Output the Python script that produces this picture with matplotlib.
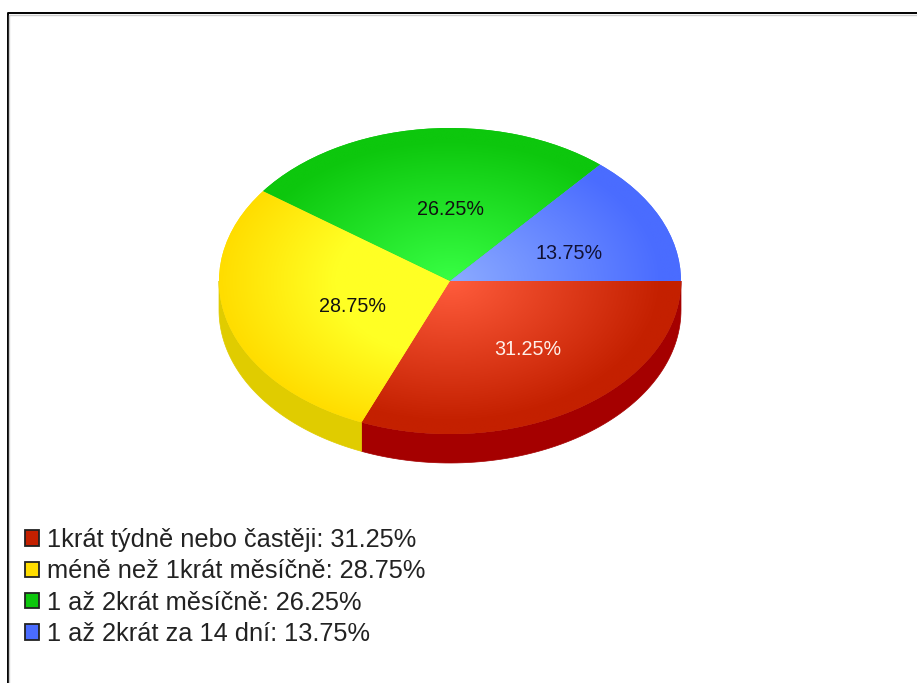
import matplotlib
matplotlib.use("Agg")
import matplotlib.pyplot as plt
import numpy as np
from matplotlib.colors import LinearSegmentedColormap
from matplotlib.patches import Patch

plt.rcParams["font.family"] = ["Liberation Sans", "DejaVu Sans"]

categories = ["1krát týdně nebo častěji", "méně než 1krát měsíčně",
              "1 až 2krát měsíčně", "1 až 2krát za 14 dní"]
values = [31.25, 28.75, 26.25, 13.75]
edge_colors = ["#c42000", "#ffdd00", "#0dc70d", "#4a6cff"]
center_colors = ["#ff5c3c", "#ffff24", "#38ff44", "#8cabff"]
hold = [0.0, 0.5, 0.0, 0.0]  # how far the bright centre colour stays
side_colors = ["#a50000", "#e0cc00", "#0a9a0a", "#3650c0"]
label_colors = ["#fff0ea", "#111111", "#111111", "#111133"]

W, H = 917, 683
CX, CY, RX, RY, DEPTH = 450, 281, 231, 153, 29

fig = plt.figure(figsize=(W / 100, H / 100), dpi=100, facecolor="white")
ax = fig.add_axes([0, 0, 1, 1])

wedges, _ = ax.pie(values, colors=edge_colors, startangle=0, counterclock=False,
                   wedgeprops={"linewidth": 0})
ax.set_aspect("auto")
xlim = (-CX / RX, (W - CX) / RX)
ylim = ((CY - H) / RY, CY / RY)
d = DEPTH / RY

# rim: only the front half of the pie shows
start = 0.0
for val, col in zip(values, side_colors):
    end = start + val * 3.6
    a, b = start, min(end, 180)
    if a < 180:
        th = np.radians(np.linspace(a, b, 80))
        x = np.cos(th)
        y = -np.sin(th)
        ax.fill(np.r_[x, x[::-1]], np.r_[y, y[::-1] - d], color=col, lw=0.5, zorder=0)
    start = end

# radial shading, clipped to each wedge
gx, gy = np.meshgrid(np.linspace(-1, 1, 500), np.linspace(-1, 1, 500))
rad = np.clip(np.hypot(gx, gy), 0, 1)
for w, c0, c1, h0 in zip(wedges, center_colors, edge_colors, hold):
    stops = [(0, c0), (h0, c0), (1, c1)] if h0 else [(0, c0), (0.92, c1), (1, c1)]
    cmap = LinearSegmentedColormap.from_list("shade", stops)
    im = ax.imshow(rad, cmap=cmap, vmin=0, vmax=1, extent=(-1, 1, -1, 1),
                   origin="lower", aspect="auto", zorder=2)
    im.set_clip_path(w)

# percentage labels
start = 0.0
for val, col in zip(values, label_colors):
    mid = np.radians(start + val * 1.8)
    ax.text(0.5 * np.cos(mid) + 0.06, -0.5 * np.sin(mid) - 0.03, f"{val:.2f}%", color=col,
            fontsize=14.2, ha="center", va="center", zorder=3)
    start += val * 3.6

ax.set_xlim(xlim)
ax.set_ylim(ylim)
ax.axis("off")

handles = [Patch(facecolor=c, edgecolor="#222222", linewidth=1.3) for c in edge_colors]
labels = [f"{c}: {v:.2f}%" for c, v in zip(categories, values)]
ax.legend(handles, labels, loc="lower left", bbox_to_anchor=(25 / W, (H - 646) / H),
          bbox_transform=fig.transFigure, frameon=False, fontsize=18.3, borderpad=0,
          borderaxespad=0, handlelength=0.55, handleheight=0.55, handletextpad=0.32,
          labelspacing=0.29, labelcolor="#222222")

# outer frame, cut off at the right and bottom of the picture
fig.add_artist(plt.Line2D([7.5 / W, 7.5 / W, 1], [0, (H - 13) / H, (H - 13) / H],
                          transform=fig.transFigure, color="black", lw=1.4))
fig.add_artist(plt.Line2D([9.2 / W, 9.2 / W, 1], [0, (H - 14.7) / H, (H - 14.7) / H],
                          transform=fig.transFigure, color="#cccccc", lw=1.0))

fig.savefig("out.png", dpi=100, facecolor="white")
